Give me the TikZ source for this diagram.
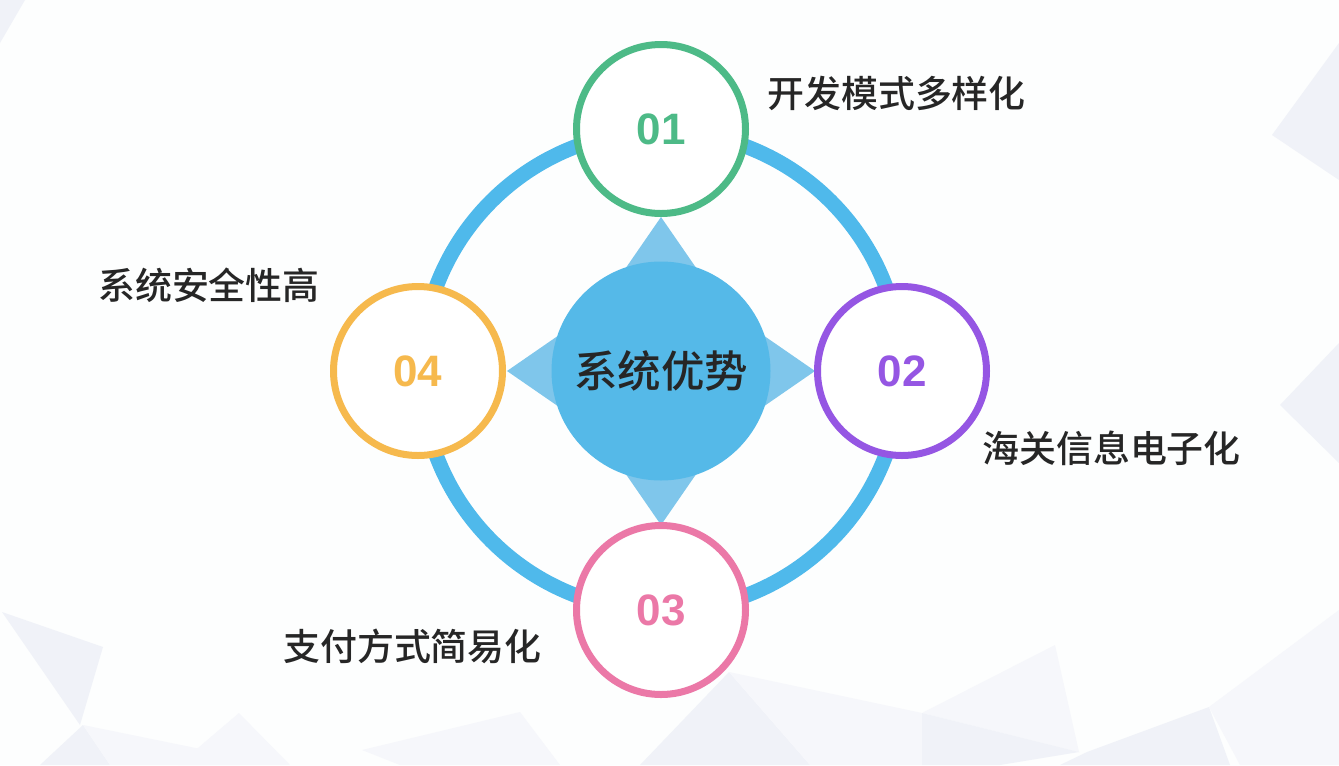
\documentclass[tikz,border=0pt]{standalone}
\usepackage{fontspec}
\setmainfont{Liberation Sans}
\newfontfamily\cjk{Noto Sans CJK SC}[UprightFont=* Medium, BoldFont=* Bold]

\definecolor{pagewhite}{HTML}{FDFEFE}
\definecolor{shadeA}{HTML}{F0F2F8}
\definecolor{shadeB}{HTML}{F6F7FB}
\definecolor{ringblue}{HTML}{4FB9EB}
\definecolor{hubblue}{HTML}{55B9E8}
\definecolor{tipblue}{HTML}{7FC6EB}
\definecolor{numgreen}{HTML}{4DBA87}
\definecolor{numpurple}{HTML}{9556E3}
\definecolor{numpink}{HTML}{EB78A7}
\definecolor{numyellow}{HTML}{F6B94D}
\definecolor{textgray}{HTML}{262626}

\begin{document}
\begin{tikzpicture}[x=0.75pt, y=-0.75pt,
  numcircle/.style={circle, draw, line width=5.25pt, fill=white,
    minimum size=126.75pt, inner sep=0pt,
    font=\fontsize{33}{33}\selectfont\bfseries},
  labeltext/.style={inner sep=0pt, text=textgray,
    font=\cjk\fontsize{27.7}{32}\selectfont}]

  \fill[pagewhite] (0, 0) rectangle (1339, 765);
  \useasboundingbox (0, 0) rectangle (1339, 765);

  \fill[shadeA] (0, 0) -- (25, 0) -- (0, 43) -- cycle;
  \fill[shadeA] (1339, 43) -- (1272, 135) -- (1339, 180) -- cycle;
  \fill[shadeA] (1339, 343) -- (1280, 405) -- (1339, 463) -- cycle;
  \fill[shadeA] (2, 612) -- (103, 647) -- (80, 725) -- cycle;
  \fill[shadeA] (83, 725) -- (40, 765) -- (110, 765) -- cycle;
  \fill[shadeB] (83, 725) -- (230, 755) -- (240, 765) -- (110, 765) -- cycle;
  \fill[shadeB] (239, 713) -- (178, 765) -- (290, 765) -- cycle;
  \fill[shadeB] (362, 750) -- (520, 712) -- (560, 765) -- (400, 765) -- cycle;
  \fill[shadeA] (640, 765) -- (729, 672) -- (810, 765) -- cycle;
  \fill[shadeB] (729, 672) -- (922, 713) -- (922, 765) -- (810, 765) -- cycle;
  \fill[shadeB] (922, 713) -- (1055, 645) -- (1079, 752) -- cycle;
  \fill[shadeA] (922, 713) -- (1079, 752) -- (1000, 765) -- (922, 765) -- cycle;
  \fill[shadeA] (1087, 752) -- (1209, 707) -- (1230, 765) -- (1060, 765) -- cycle;
  \fill[shadeB] (1209, 707) -- (1339, 610) -- (1339, 765) -- (1240, 765) -- cycle;

  \coordinate (O) at (661, 371);

  \draw[ringblue, line width=11.25pt] (O) circle[radius=240];

  \foreach \a in {0, 90, 180, 270}
    \fill[tipblue, shift={(O)}, rotate=\a] (154, 0) -- (70, 58) -- (70, -58) -- cycle;

  \node[circle, fill=hubblue, minimum size=164.25pt, inner sep=0pt, text=textgray,
    font=\cjk\fontsize{32.6}{36}\selectfont] (hub) at (O) {系统优势};

  \node[numcircle, draw=numgreen, text=numgreen] (c1) at (661, 129) {01};
  \node[numcircle, draw=numpurple, text=numpurple] (c2) at (902, 371) {02};
  \node[numcircle, draw=numpink, text=numpink] (c3) at (661, 610) {03};
  \node[numcircle, draw=numyellow, text=numyellow] (c4) at (418, 371) {04};

  \node[labeltext, anchor=west] (t1) at (767, 93) {开发模式多样化};
  \node[labeltext, anchor=west] (t2) at (982, 448) {海关信息电子化};
  \node[labeltext, anchor=east] (t3) at (542, 646) {支付方式简易化};
  \node[labeltext, anchor=east] (t4) at (320, 285) {系统安全性高};
\end{tikzpicture}
\end{document}
